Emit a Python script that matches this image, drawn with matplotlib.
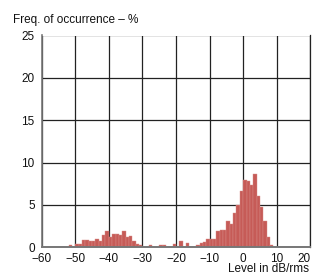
import numpy as np
import matplotlib.pyplot as plt

plt.rcParams['font.family'] = ['Liberation Sans', 'DejaVu Sans']

# 1 dB bins, left edge in dB/rms
bin_left = np.arange(-52, 9)
freq_pct = [
    0.3, 0.0, 0.35, 0.35, 0.9, 0.9, 0.7, 0.8, 1.0, 0.8,      # -52 .. -43
    1.4, 1.9, 1.2, 1.6, 1.6, 1.4, 1.9, 1.2, 1.3, 0.8,        # -42 .. -33
    0.35, 0.25, 0.0, 0.0, 0.25, 0.0, 0.0, 0.25, 0.25, 0.0,   # -32 .. -23
    0.0, 0.35, 0.0, 0.7, 0.0, 0.55, 0.0, 0.0, 0.25, 0.5,     # -22 .. -13
    0.6, 0.95, 1.0, 1.0, 1.9, 2.05, 2.05, 3.15, 2.7, 4.0,    # -12 .. -3
    5.0, 6.6, 8.0, 7.8, 7.3, 8.7, 6.0, 4.7, 3.15, 1.2,       # -2 .. 7
    0.25,                                                    # 8
]
x_ticks = [-60, -50, -40, -30, -20, -10, 0, 10, 20]
y_ticks = [0, 5, 10, 15, 20, 25]

fig = plt.figure(figsize=(3.12, 2.76), dpi=100)
ax = fig.add_axes([41.7 / 312, 1 - 247.3 / 276, (310.3 - 41.7) / 312, (247.3 - 35.5) / 276])

ax.bar(bin_left, freq_pct, width=1.0, align='edge', color='#c65b57',
       edgecolor='#d98e8a', linewidth=0.3, zorder=3)

ax.set_xlim(-60, 20)
ax.set_ylim(0, 25)
ax.set_xticks(x_ticks)
ax.set_yticks(y_ticks)
ax.tick_params(length=0, labelsize=8.5, colors='#111111')
ax.tick_params(axis='x', pad=4)
ax.tick_params(axis='y', pad=5)
ax.grid(True, color='#222222', linewidth=0.9, zorder=1)

# last x label sits inside the figure like in the original
ax.get_xticklabels()[-1].set_horizontalalignment('right')

ax.spines['top'].set_visible(False)
ax.spines['right'].set_color('#222222')
ax.spines['right'].set_linewidth(0.9)
ax.spines['left'].set_color('#777777')
ax.spines['left'].set_linewidth(1.2)
ax.spines['bottom'].set_color('#777777')
ax.spines['bottom'].set_linewidth(1.4)
ax.spines['bottom'].set_zorder(4)

fig.text(13 / 312, 1 - 20 / 276, 'Freq. of occurrence – %', fontsize=8.5,
         va='center', ha='left', color='#111111')
fig.text(309 / 312, 1 - 275.5 / 276, 'Level in dB/rms', fontsize=8.5,
         va='bottom', ha='right', color='#111111')

fig.savefig('out.png', dpi=100)
